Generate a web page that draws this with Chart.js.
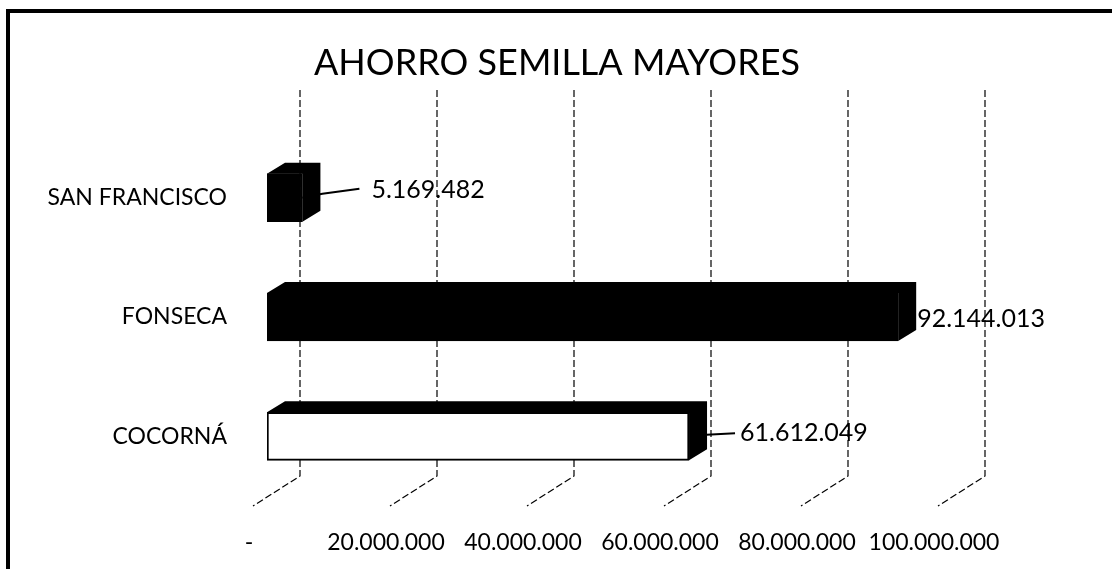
<!DOCTYPE html>
<html lang="es">
<head>
<meta charset="UTF-8" />
<title>Ahorro semilla mayores</title>
<script src="https://cdn.jsdelivr.net/npm/chart.js"></script>
<style>
  html, body { margin: 0; padding: 0; background: #fff; }
  canvas { display: block; }
</style>
</head>
<body>
<canvas id="chart" width="1112" height="569"></canvas>
<script>
const categories = ["SAN FRANCISCO", "FONSECA", "COCORNÁ"];
const ahorro = [5169482, 92144013, 61612049];
const tickValues = [0, 20000000, 40000000, 60000000, 80000000, 100000000];
const chartTitle = "AHORRO SEMILLA MAYORES";

const FONT = "Lato";
// 3d look: depth of the bars and of the floor
const DX = 18, DY = -11;

function miles(n) {
  if (n === 0) return "-";
  return String(Math.round(n)).replace(/\B(?=(\d{3})+(?!\d))/g, ".");
}

const framePlugin = {
  id: "frame",
  beforeDraw(chart) {
    const ctx = chart.ctx;
    ctx.save();
    ctx.fillStyle = "#fff";
    ctx.fillRect(0, 0, chart.width, chart.height);
    ctx.fillStyle = "#000";
    ctx.fillRect(6, 9, chart.width - 6, 4);
    ctx.fillRect(6, 9, 4, chart.height - 9);
    ctx.font = "36px " + FONT;
    ctx.textAlign = "center";
    ctx.textBaseline = "middle";
    ctx.fillText(chartTitle, 557, 63);
    ctx.restore();
  }
};

const gridPlugin = {
  id: "grid3d",
  beforeDatasetsDraw(chart) {
    const ctx = chart.ctx;
    const xs = chart.scales.x;
    const area = chart.chartArea;
    ctx.save();
    ctx.strokeStyle = "#000";
    ctx.lineWidth = 1.2;
    ctx.setLineDash([7, 3]);
    tickValues.forEach((v) => {
      const x = xs.getPixelForValue(v);
      const bx = x + 33;
      ctx.beginPath();
      ctx.moveTo(bx, area.top - 48);
      ctx.lineTo(bx, area.bottom - 20);
      ctx.lineTo(x - 14, area.bottom + 10);
      ctx.stroke();
    });
    ctx.restore();
  }
};

const barPlugin = {
  id: "bars3d",
  afterDatasetsDraw(chart) {
    const ctx = chart.ctx;
    const meta = chart.getDatasetMeta(0);
    ctx.save();
    meta.data.forEach((bar, i) => {
      const p = bar.getProps(["x", "y", "base", "height"], true);
      const top = p.y - p.height / 2;
      const bottom = p.y + p.height / 2;
      ctx.fillStyle = "#000";
      ctx.beginPath();
      ctx.moveTo(p.base, top);
      ctx.lineTo(p.base + DX, top + DY);
      ctx.lineTo(p.x + DX, top + DY);
      ctx.lineTo(p.x + DX, bottom + DY);
      ctx.lineTo(p.x, bottom);
      ctx.lineTo(p.x, top);
      ctx.closePath();
      ctx.fill();

      // value labels with leader lines
      const val = ahorro[i];
      ctx.font = "25px " + FONT;
      ctx.textBaseline = "middle";
      ctx.textAlign = "left";
      ctx.lineWidth = 2;
      ctx.strokeStyle = "#000";
      if (i === 0) {
        ctx.beginPath();
        ctx.moveTo(p.x, p.y);
        ctx.lineTo(p.x + 20, p.y - 4);
        ctx.lineTo(p.x + 57, p.y - 9);
        ctx.stroke();
        ctx.fillText(miles(val), p.x + 69, p.y - 8);
      } else if (i === 1) {
        ctx.fillText(miles(val), p.x + DX + 1, p.y + 2);
      } else {
        ctx.beginPath();
        ctx.moveTo(p.x + 8, p.y - 1);
        ctx.lineTo(p.x + 46, p.y - 3);
        ctx.stroke();
        ctx.fillText(miles(val), p.x + 51, p.y - 3);
      }
    });
    ctx.restore();
  }
};

new Chart(document.getElementById("chart"), {
  type: "bar",
  data: {
    labels: categories,
    datasets: [{
      data: ahorro,
      backgroundColor: ["#000", "#000", "#fff"],
      borderColor: "#000",
      borderWidth: 2,
      borderSkipped: false,
      barThickness: 48
    }]
  },
  options: {
    indexAxis: "y",
    responsive: false,
    animation: false,
    devicePixelRatio: 1,
    layout: { padding: { top: 138, right: 160, bottom: 0, left: 0 } },
    plugins: {
      legend: { display: false },
      tooltip: { enabled: false },
      title: { display: false }
    },
    scales: {
      x: {
        min: 0,
        max: 100000000,
        grid: { display: false },
        border: { display: false },
        afterBuildTicks: (s) => { s.ticks = tickValues.map((v) => ({ value: v })); },
        afterFit: (s) => { s.height = 73; },
        ticks: {
          autoSkip: false,
          maxRotation: 0,
          padding: 25,
          labelOffset: -18,
          color: "#000",
          font: { family: FONT, size: 23 },
          callback: (v) => miles(v)
        }
      },
      y: {
        grid: { display: false },
        border: { display: false },
        afterFit: (s) => { s.width = 267; },
        ticks: {
          padding: 32,
          color: "#000",
          font: { family: FONT, size: 23 }
        }
      }
    }
  },
  plugins: [framePlugin, gridPlugin, barPlugin]
});
</script>
</body>
</html>
